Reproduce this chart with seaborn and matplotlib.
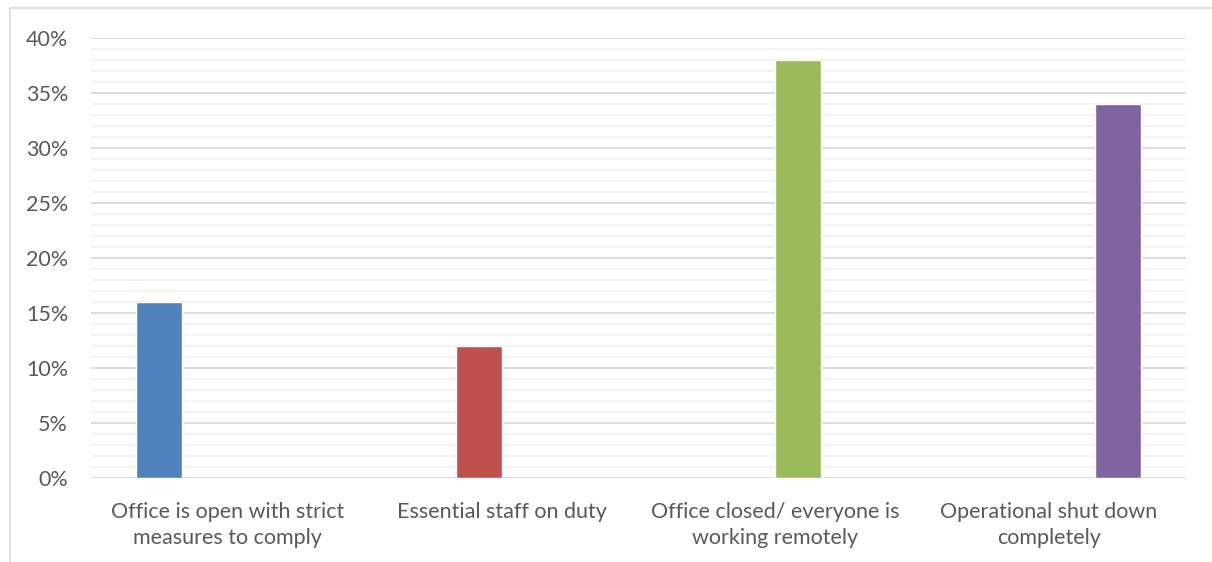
import pandas as pd
import matplotlib
matplotlib.use("Agg")
import matplotlib.pyplot as plt
from matplotlib.ticker import MultipleLocator, FuncFormatter
from matplotlib.patches import Rectangle
import seaborn as sns

categories = ["Office is open with strict\nmeasures to comply",
              "Essential staff on duty",
              "Office closed/ everyone is\nworking remotely",
              "Operational shut down\ncompletely"]
values = [16, 12, 38, 34]
colors = ["#4f81bd", "#c0504d", "#9bbb59", "#8064a2"]

df = pd.DataFrame({"cat": categories, "val": values, "series": categories})

sns.set_style("white")
plt.rcParams["font.family"] = ["Lato", "DejaVu Sans"]

fig = plt.figure(figsize=(12.12, 5.62), dpi=100)
ax = fig.add_axes([91/1212, 1 - 478/562, (1186-91)/1212, (478-38)/562])

sns.barplot(data=df, x="cat", y="val", hue="series", order=categories,
            hue_order=categories, palette=colors, dodge=True, width=0.672,
            saturation=1, legend=False, ax=ax, zorder=3)

ax.set_ylim(0, 40)
ax.set_xlim(-0.5, 3.5)
ax.yaxis.set_major_locator(MultipleLocator(5))
ax.yaxis.set_minor_locator(MultipleLocator(1))
ax.yaxis.set_major_formatter(FuncFormatter(lambda v, p: f"{v:.0f}%"))
ax.grid(axis="y", which="major", color="#d9d9d9", linewidth=1.3, zorder=0)
ax.grid(axis="y", which="minor", color="#f2f2f2", linewidth=1.3, zorder=0)
ax.set_axisbelow(True)
for s in ax.spines.values():
    s.set_visible(False)
ax.tick_params(axis="both", which="both", length=0, labelsize=15.5, labelcolor="#595959")
ax.tick_params(axis="y", pad=16.5)
ax.tick_params(axis="x", pad=17)
for lbl in ax.get_xticklabels():
    lbl.set_linespacing(1.4)
ax.set_xlabel("")
ax.set_ylabel("")

# chart border
fig.patches.append(Rectangle((10/1212, -0.1), 1.2, 1 - 8/562 + 0.1,
                             transform=fig.transFigure, fill=False,
                             edgecolor="#d9d9d9", linewidth=1.2))

fig.savefig("out.png", dpi=100)
